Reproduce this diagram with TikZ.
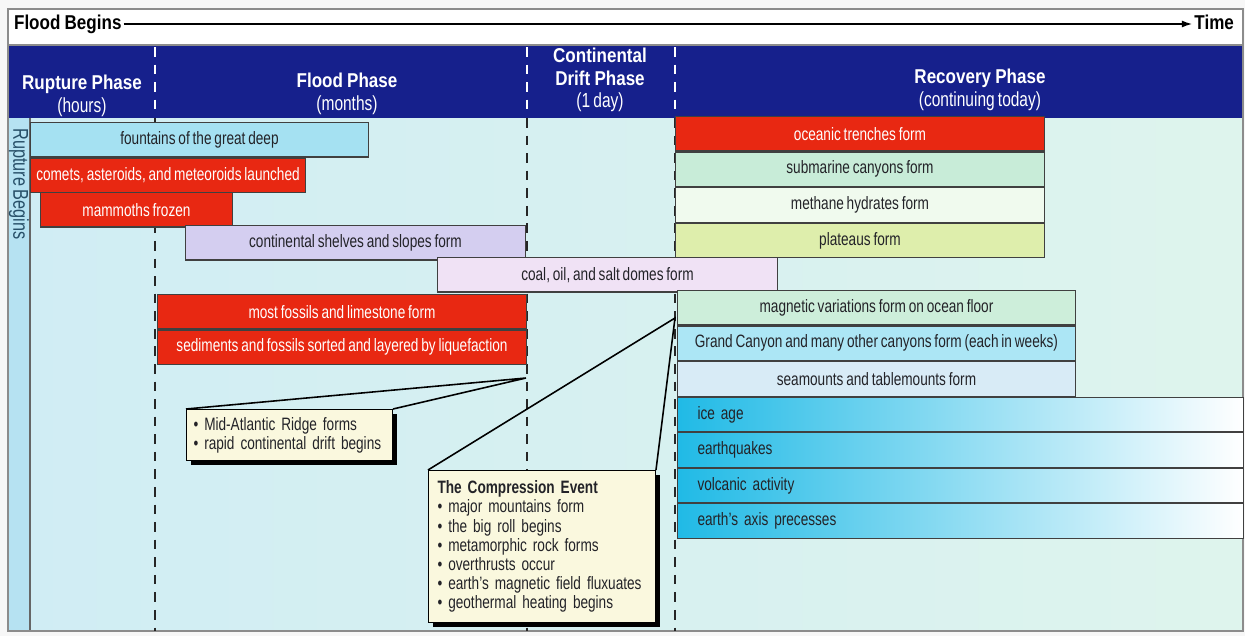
\documentclass[tikz,border=0pt]{standalone}
\usepackage{fontspec}
\setmainfont{Liberation Sans}[FakeStretch=0.76, WordSpace=0.75]
\newfontfamily\condbold{Liberation Sans}[FakeStretch=0.85, WordSpace=0.9]
\usetikzlibrary{arrows.meta,shadows}
\definecolor{headblue}{RGB}{22,32,140}
\definecolor{floodred}{RGB}{232,40,18}
\definecolor{fountcyan}{RGB}{165,225,242}
\definecolor{shelflav}{RGB}{212,206,240}
\definecolor{coalpink}{RGB}{240,226,245}
\definecolor{subgreen}{RGB}{200,236,216}
\definecolor{methwhite}{RGB}{240,250,238}
\definecolor{platyellow}{RGB}{222,238,172}
\definecolor{maggreen}{RGB}{205,238,218}
\definecolor{grandcyan}{RGB}{172,230,245}
\definecolor{seablue}{RGB}{216,235,246}
\definecolor{icecyan}{RGB}{32,186,230}
\definecolor{calloutfill}{RGB}{250,248,222}
\definecolor{bodyleft}{RGB}{208,237,244}
\definecolor{bodyright}{RGB}{222,244,237}
\definecolor{stripblue}{RGB}{182,226,242}
\definecolor{striptext}{RGB}{40,80,105}
\definecolor{bartext}{RGB}{35,35,40}
\newcommand{\bartxt}{\fontsize{10.2}{10.9}\selectfont}
\newcommand{\phasebf}{\condbold\bfseries\fontsize{11.4}{13}\selectfont}
\newcommand{\phasesub}{\rmfamily\mdseries\fontsize{11.6}{13}\selectfont}

\begin{document}
\begin{tikzpicture}[
    x=0.02cm, y=-0.02cm,
    bar/.style={draw=black!75, line width=0.6pt, anchor=north west, inner sep=0pt,
      minimum height=0.69cm, font=\bartxt, text=bartext},
    redbar/.style={bar, fill=floodred, text=white},
    geobar/.style={bar, left color=icecyan, right color=white, minimum width=11.32cm,
      text width=10.52cm, inner xsep=0.4cm, align=left},
    callout/.style={draw=black, line width=0.6pt, fill=calloutfill, anchor=north west,
      align=left, font=\bartxt, text=bartext, inner xsep=0pt,
      drop shadow={shadow xshift=2.6pt, shadow yshift=-2.6pt, fill=black, opacity=1}},
    leader/.style={line width=0.9pt},
    phaseline/.style={dash pattern=on 5.5pt off 4.5pt, line width=0.9pt},
    phasehead/.style={text=white, align=center, font=\phasebf},
    toplabel/.style={font=\phasebf, text height=8.5pt, text depth=2.5pt, inner sep=1pt}
  ]
    \useasboundingbox (0,0) rectangle (1245,636);
    \fill[black!3] (0,0) rectangle (1245,636);
    % frame, header and body
    \fill[white] (8,9) rectangle (1243,45);
    \shade[left color=bodyleft, right color=bodyright] (8,118) rectangle (1243,631);
    \fill[headblue] (8,45) rectangle (1243,118);
    \fill[stripblue] (8,118) rectangle (30,631);
    \draw[black!60, line width=0.6pt] (30,118) -- (30,631);
    \draw[black!45, line width=0.6pt] (8,9) rectangle (1243,631);
    \draw[black!45, line width=0.6pt] (8,45) -- (1243,45);

    \node[toplabel, anchor=west] (floodbegins) at (12,24) {Flood Begins};
    \node[toplabel, anchor=east] (time) at (1236,24) {Time};
    \draw[-{Latex[length=6pt,width=4pt]}, line width=0.9pt] (floodbegins) -- (time);

    % phase boundaries
    \foreach \x in {155,527,675} {
      \draw[phaseline, white, line width=1.2pt] (\x,47) -- (\x,116);
      \draw[phaseline, black!85] (\x,118) -- (\x,631);
    }

    \node[phasehead] (rupture) at (82,96) {Rupture Phase\\{\phasesub (hours)}};
    \node[phasehead] (flood) at (347,93.5) {Flood Phase\\{\phasesub (months)}};
    \node[phasehead] (drift) at (600,80) {Continental\\Drift Phase\\{\phasesub (1 day)}};
    \node[phasehead] (recovery) at (980,90) {Recovery Phase\\{\phasesub (continuing today)}};

    \node[rotate=-90, anchor=west, font=\fontsize{12.2}{13}\selectfont, text=striptext,
      inner sep=0pt] (rupbegins) at (19,128) {Rupture Begins};

    % flood events
    \node[bar, fill=fountcyan, minimum width=6.76cm] (fountains) at (30,122) {fountains of the great deep};
    \node[redbar, minimum width=5.50cm] (comets) at (fountains.south west) {comets, asteroids, and meteoroids launched};
    \node[redbar, minimum width=3.84cm] (mammoths) at (40,192) {mammoths frozen};
    \node[bar, fill=shelflav, minimum width=6.80cm] (shelves) at (185,225) {continental shelves and slopes form};
    \node[bar, fill=coalpink, minimum width=6.80cm] (coal) at (437,257) {coal, oil, and salt domes form};
    \node[redbar, minimum width=7.38cm] (fossils) at (157,294) {most fossils and limestone form};
    \node[redbar, minimum width=7.38cm] (sediments) at (fossils.south west) {sediments and fossils sorted and layered by liquefaction};

    % recovery events
    \node[redbar, minimum width=7.38cm] (trenches) at (675,116) {oceanic trenches form};
    \node[bar, fill=subgreen, minimum width=7.38cm] (submarine) at (trenches.south west) {submarine canyons form};
    \node[bar, fill=methwhite, minimum width=7.38cm] (methane) at (submarine.south west) {methane hydrates form};
    \node[bar, fill=platyellow, minimum width=7.38cm] (plateaus) at (methane.south west) {plateaus form};
    \node[bar, fill=maggreen, minimum width=7.96cm] (magnetic) at (677,290) {magnetic variations form on ocean floor};
    \node[bar, fill=grandcyan, minimum width=7.96cm] (grandcanyon) at (magnetic.south west) {Grand Canyon and many other canyons form (each in weeks)};
    \node[bar, fill=seablue, minimum width=7.96cm] (seamounts) at (grandcanyon.south west) {seamounts and tablemounts form};
    \node[geobar] (iceage) at (seamounts.south west) {ice age};
    \node[geobar] (quakes) at (iceage.south west) {earthquakes};
    \node[geobar] (volcanic) at (quakes.south west) {volcanic activity};
    \node[geobar] (axis) at (volcanic.south west) {earth's axis precesses};

    % callouts
    \coordinate (ridgetip) at (526,378);
    \coordinate (compresstip) at (675,318);
    \node[callout, text width=3.84cm, minimum height=1.02cm, inner xsep=0.14cm] (ridge) at (186,409)
      {\textbullet\ Mid-Atlantic Ridge forms\\\textbullet\ rapid continental drift begins};
    \node[callout, text width=4.18cm, minimum height=3.04cm, inner xsep=0.18cm] (compress) at (428,470)
      {\textbf{The Compression Event}\\
       \textbullet\ major mountains form\\
       \textbullet\ the big roll begins\\
       \textbullet\ metamorphic rock forms\\
       \textbullet\ overthrusts occur\\
       \textbullet\ earth's magnetic field fluxuates\\
       \textbullet\ geothermal heating begins};
    \draw[leader] (ridge.north west) -- (ridgetip) -- (ridge.north east);
    \draw[leader] (compress.north west) -- (compresstip) -- (compress.north east);
  \end{tikzpicture}
\end{document}
